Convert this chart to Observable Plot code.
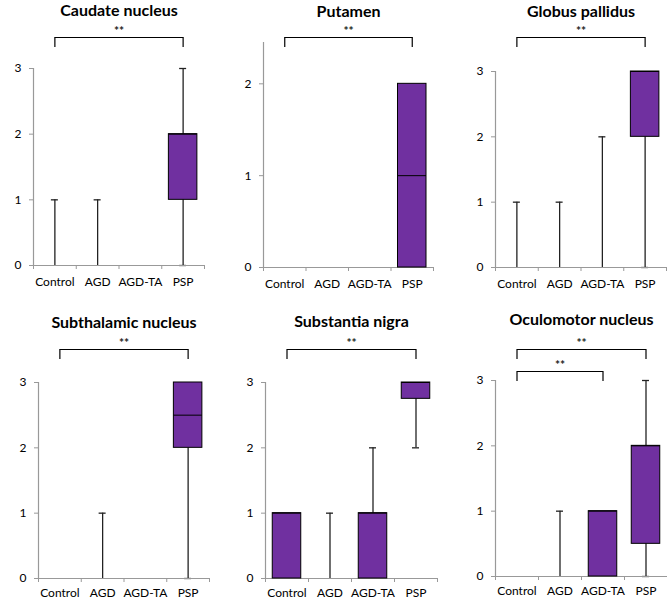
<!DOCTYPE html>
<html>
<head>
<meta charset="utf-8">
<script src="https://cdn.jsdelivr.net/npm/d3@7"></script>
<script src="https://cdn.jsdelivr.net/npm/@observablehq/plot@0.6"></script>
<style>
  body { margin: 0; background: #fff; }
  #chart { position: relative; width: 667px; height: 600px; overflow: hidden; background: #fff; }
  .panel { position: absolute; }
  .panel svg { display: block; overflow: visible; }
  g[aria-label^="y-axis"] line, g[aria-label^="y-axis"] path { stroke: #999; }
</style>
</head>
<body>
<div id="chart"></div>
<script>
// ---- data ----
const groups = ["Control", "AGD", "AGD-TA", "PSP"];
const regions = ["Caudate nucleus", "Putamen", "Globus pallidus", "Subthalamic nucleus", "Substantia nigra", "Oculomotor nucleus"];
// five-number summaries per group: [min, q1, median, q3, max]
const caudate     = [[0,0,0,0,1], [0,0,0,0,1], [0,0,0,0,0], [0,1,2,2,3]];
const putamen     = [[0,0,0,0,0], [0,0,0,0,0], [0,0,0,0,0], [0,0,1,2,2]];
const globus      = [[0,0,0,0,1], [0,0,0,0,1], [0,0,0,0,2], [0,2,3,3,3]];
const subthalamic = [[0,0,0,0,0], [0,0,0,0,1], [0,0,0,0,0], [0,2,2.5,3,3]];
const nigra       = [[0,0,1,1,1], [0,0,0,0,1], [0,0,1,1,2], [2,2.75,3,3,3]];
const oculomotor  = [[0,0,0,0,0], [0,0,0,0,1], [0,0,1,1,1], [0,0.5,2,2,3]];
// significance brackets: [from, to, label]
const caudateSig     = [["Control", "PSP", "**"]];
const putamenSig     = [["Control", "PSP", "**"]];
const globusSig      = [["Control", "PSP", "**"]];
const subthalamicSig = [["Control", "PSP", "**"]];
const nigraSig       = [["Control", "PSP", "**"]];
const oculomotorSig  = [["Control", "PSP", "**"], ["Control", "AGD-TA", "**"]];
// axis settings
const yMax   = [3, 2.45, 3, 3, 3, 3];
const yTicks = [[0,1,2,3], [0,1,2], [0,1,2,3], [0,1,2,3], [0,1,2,3], [0,1,2,3]];

const summaries = [caudate, putamen, globus, subthalamic, nigra, oculomotor];
const sigs = [caudateSig, putamenSig, globusSig, subthalamicSig, nigraSig, oculomotorSig];

// ---- layout (pixels) ----
const H = 300;
const panelLeft  = [0, 222, 444, 0, 222, 444];
const panelTop   = [0, 0, 0, 300, 300, 300];
const panelWidth = [222, 222, 223, 222, 222, 223];
const mLeft   = [33, 41, 51, 38, 43, 51];
const mRight  = [18, 11, 1, 13, 7, 0];
const mTop    = [68, 42, 71, 82, 82, 80];
const mBottom = [35, 33, 33, 22, 22, 24];
const labelPad = [12, 12, 12, 10, 10, 10];
const titleY  = [10, 11, 11, 22, 21, 19];
const bracketPx = [[37], [37], [37], [49], [49], [49, 71]];
const legLen = 10;
const boxWidth = 28.5, capWidth = 7;

const purple = "#7030A0";
const chart = document.getElementById("chart");

regions.forEach((title, p) => {
  const M = yMax[p];
  const T = mTop[p], B = H - mBottom[p];
  const k = (B - T) / M;                 // px per unit
  const val = px => M * (B - px) / (B - T);  // pixel row -> y value
  const bw = (panelWidth[p] - mLeft[p] - mRight[p]) / groups.length;
  const inset = (bw - boxWidth) / 2;
  const capInset = (bw - capWidth) / 2;

  const rows = summaries[p].map((s, i) => ({group: groups[i], min: s[0], q1: s[1], median: s[2], q3: s[3], max: s[4]}));
  const boxes = rows.filter(d => d.q3 > d.q1);
  const upper = rows.filter(d => d.max > d.q3);
  const lower = rows.filter(d => d.min < d.q1);
  const caps = [
    ...upper.map(d => ({group: d.group, v: d.max})),
    ...lower.map(d => ({group: d.group, v: d.min}))
  ];

  const bracketMarks = [];
  sigs[p].forEach(([from, to, label], j) => {
    const barPx = bracketPx[p][j];
    const yb = val(barPx), yl = val(barPx + legLen);
    const span = groups.indexOf(to) - groups.indexOf(from);
    bracketMarks.push(
      Plot.link([{from, to}], {x1: "from", x2: "to", y1: () => yb, y2: () => yb, stroke: "#000", strokeWidth: 1.2}),
      Plot.ruleX([from, to], {x: d => d, y1: yl, y2: yb, stroke: "#000", strokeWidth: 1.2}),
      Plot.text([label], {x: () => from, y: () => yb, dx: span * bw / 2, dy: -6, text: d => d, fontSize: 12, fontWeight: "bold", fill: "#222"})
    );
  });

  const plot = Plot.plot({
    width: panelWidth[p],
    height: H,
    marginLeft: mLeft[p], marginRight: mRight[p], marginTop: T, marginBottom: mBottom[p],
    style: {fontFamily: "Lato, 'Open Sans', sans-serif", fontSize: "12px", background: "transparent", color: "#000"},
    x: {type: "band", domain: groups, padding: 0, round: false, tickSize: 0, tickPadding: labelPad[p], label: null},
    y: {domain: [0, M], ticks: yTicks[p], tickSize: 4, tickPadding: 8, tickFormat: d3.format("d"), label: null},
    marks: [
      // whiskers
      Plot.ruleX(upper, {x: "group", y1: "q3", y2: "max", stroke: "#222", strokeWidth: 1.3}),
      Plot.ruleX(lower, {x: "group", y1: "min", y2: "q1", stroke: "#222", strokeWidth: 1.3}),
      Plot.tickY(caps, {x: "group", y: "v", stroke: "#222", strokeWidth: 1.3, insetLeft: capInset, insetRight: capInset}),
      // axis lines & boundary ticks
      Plot.ruleY([0], {stroke: "#999", strokeWidth: 1.2}),
      Plot.ruleX([groups[0]], {x: d => d, y1: 0, y2: M, dx: -bw / 2, stroke: "#999", strokeWidth: 1.2}),
      Plot.ruleX([groups[0]], {x: d => d, y1: 0, y2: -4 / k, dx: -bw / 2, stroke: "#999"}),
      Plot.ruleX(groups, {x: d => d, y1: 0, y2: -4 / k, dx: bw / 2, stroke: "#999"}),
      // boxes
      Plot.barY(boxes, {x: "group", y1: "q1", y2: "q3", fill: purple, stroke: "#000", strokeWidth: 1, insetLeft: inset, insetRight: inset}),
      Plot.tickY(boxes, {x: "group", y: "median", stroke: "#000", strokeWidth: 1, insetLeft: inset, insetRight: inset}),
      // title
      Plot.text([title], {frameAnchor: "top", lineAnchor: "middle", dy: titleY[p] - T, text: d => d, fontSize: 16, fontWeight: "bold", fill: "#000"}),
      ...bracketMarks
    ]
  });
  const div = document.createElement("div");
  div.className = "panel";
  div.style.left = panelLeft[p] + "px";
  div.style.top = panelTop[p] + "px";
  div.appendChild(plot);
  chart.appendChild(div);
});
</script>
</body>
</html>
